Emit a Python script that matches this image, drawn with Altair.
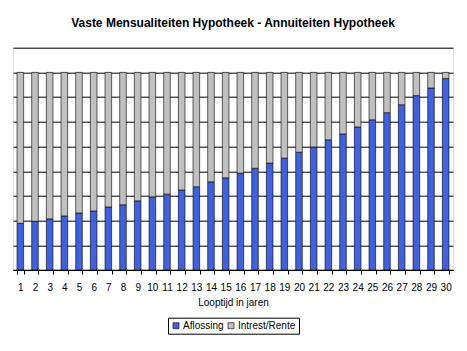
import altair as alt
import pandas as pd

years = list(range(1, 31))
aflossing = [1.89, 1.97, 2.07, 2.19, 2.31, 2.39, 2.55, 2.64, 2.80, 2.96,
             3.07, 3.24, 3.37, 3.57, 3.73, 3.92, 4.12, 4.33, 4.53, 4.77,
             4.98, 5.27, 5.51, 5.79, 6.08, 6.37, 6.69, 7.06, 7.37, 7.75]
total_payment = 8.0
rente = [round(total_payment - a, 2) for a in aflossing]
series = ["Aflossing", "Intrest/Rente"]
colors = ["#3F60E0", "#C0C0C0"]

rows = []
for y, a, r in zip(years, aflossing, rente):
    rows.append({"jaar": y, "reeks": "Aflossing", "waarde": a, "ord": 0})
    rows.append({"jaar": y, "reeks": "Intrest/Rente", "waarde": r, "ord": 1})
df = pd.DataFrame(rows)

font = "Liberation Sans"

chart = alt.Chart(df).mark_bar(stroke="black", strokeWidth=0.6).encode(
    x=alt.X("jaar:O", title="Looptijd in jaren",
            scale=alt.Scale(paddingInner=0.55, paddingOuter=0.275),
            axis=alt.Axis(labelAngle=0, labelFont=font, labelFontSize=10,
                          labelColor="black", tickBand="extent", tickSize=4,
                          tickColor="black", domainColor="black",
                          labelPadding=8, titleFont=font, titleFontSize=10,
                          titleFontWeight="normal", titleColor="black",
                          titlePadding=5, grid=False)),
    y=alt.Y("waarde:Q", stack="zero", title=None,
            scale=alt.Scale(domain=[0, 9], nice=False),
            axis=alt.Axis(values=list(range(0, 10)), labels=False, ticks=False,
                          domain=False, grid=True, gridColor="black",
                          gridWidth=1, gridOpacity=1)),
    color=alt.Color("reeks:N", scale=alt.Scale(domain=series, range=colors),
                    legend=alt.Legend(title=None, orient="none",
                                      direction="horizontal",
                                      legendX=155, legendY=270,
                                      symbolType="square", symbolSize=36,
                                      symbolStrokeColor="black",
                                      symbolStrokeWidth=0.6,
                                      labelFont=font, labelFontSize=10,
                                      labelColor="black", strokeColor="black",
                                      padding=3, columnPadding=2,
                                      labelOffset=2, fillColor="white")),
    order=alt.Order("ord:Q", sort="ascending"),
).properties(
    width=440, height=222.3,
    title=alt.TitleParams("Vaste Mensualiteiten Hypotheek - Annuiteiten Hypotheek",
                          font=font, fontSize=12, fontWeight="bold",
                          color="black", anchor="middle", offset=18),
    autosize=alt.AutoSizeParams(type="none"),
    padding={"left": 13, "top": 47.7, "right": 14, "bottom": 81},
).configure_view(stroke=None).configure(background="white")

chart.save("out.html", embed_options={"renderer": "svg", "actions": False})
